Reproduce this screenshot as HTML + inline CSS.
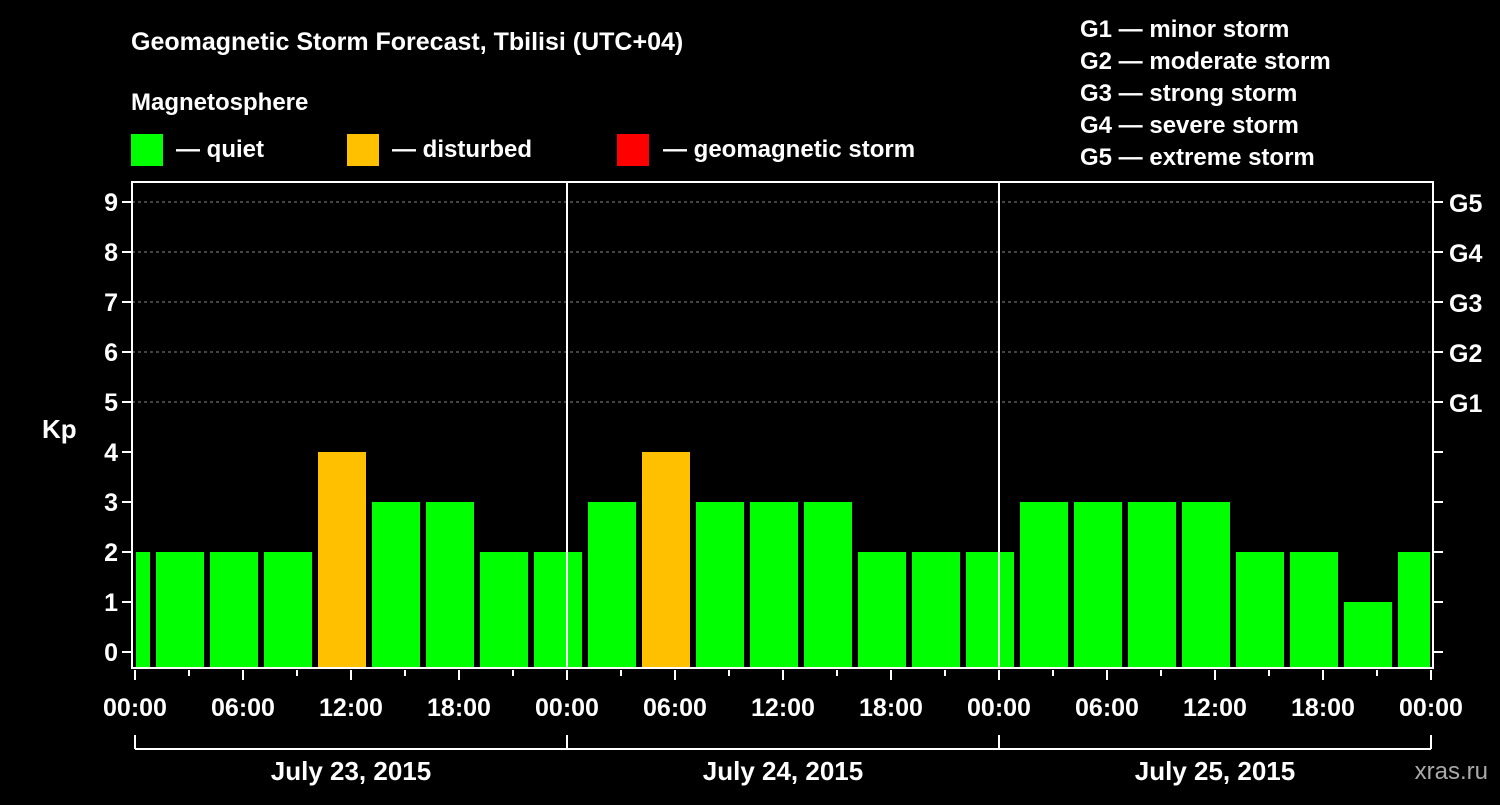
<!DOCTYPE html>
<html><head><meta charset="utf-8"><style>
body{margin:0;background:#000;width:1500px;height:800px;overflow:hidden}
svg text{font-family:"Liberation Sans",Arial,sans-serif;font-weight:bold;fill:#fff}
</style></head><body>
<svg id="chart" width="1500" height="800" xmlns="http://www.w3.org/2000/svg">
<rect width="1500" height="800" fill="#000"/>
<text x="131" y="50" font-size="25">Geomagnetic Storm Forecast, Tbilisi (UTC+04)</text>
<text x="131" y="110" font-size="24">Magnetosphere</text>
<rect x="131" y="134" width="32" height="32" fill="#00ff00"/>
<text x="176" y="157" font-size="24">— quiet</text>
<rect x="347" y="134" width="32" height="32" fill="#ffc000"/>
<text x="392" y="157" font-size="24">— disturbed</text>
<rect x="617" y="134" width="32" height="32" fill="#ff0000"/>
<text x="663" y="157" font-size="24">— geomagnetic storm</text>
<g font-size="24">
<text x="1080" y="37">G1 — minor storm</text>
<text x="1080" y="69">G2 — moderate storm</text>
<text x="1080" y="101">G3 — strong storm</text>
<text x="1080" y="133">G4 — severe storm</text>
<text x="1080" y="165">G5 — extreme storm</text>
</g>
<text x="42" y="438" font-size="26">Kp</text>
<text x="1488" y="779" font-size="24" text-anchor="end" fill="#aaa" style="fill:#aaa;font-weight:normal">xras.ru</text>
<g id="plot"></g>
</svg>
<script>
const kpValues=[2,2,2,2,4,3,3,2,2,3,4,3,3,3,2,2,2,3,3,3,3,2,2,1,2];
const blockStartHours=[-2,1,4,7,10,13,16,19,22,25,28,31,34,37,40,43,46,49,52,55,58,61,64,67,70];
const yTicks=[0,1,2,3,4,5,6,7,8,9];
const gLabels=["G1","G2","G3","G4","G5"];
const xTickLabels=["00:00","06:00","12:00","18:00","00:00","06:00","12:00","18:00","00:00","06:00","12:00","18:00","00:00"];
const dayLabels=["July 23, 2015","July 24, 2015","July 25, 2015"];
const NS="http://www.w3.org/2000/svg";
const plot=document.getElementById('plot');
const X0=135,PXH=18,TOTAL=72;
const x=h=>X0+h*PXH;
const y=k=>652-k*50;
const L=132,R=1433,T=182,B=668;
function el(t,a,p){const e=document.createElementNS(NS,t);for(const k in a)e.setAttribute(k,a[k]);(p||plot).appendChild(e);return e;}
// grid
yTicks.forEach(k=>{if(k>=5){const g=el('line',{x1:L,x2:R,y1:y(k),y2:y(k),stroke:'#888','stroke-dasharray':'3,3','stroke-width':1});

}});
// bars
kpValues.forEach((v,i)=>{
 const s=blockStartHours[i];
 let x1=x(s)+3,x2=x(s+3)-3;
 x1=Math.max(x1,x(0)+1);x2=Math.min(x2,x(TOTAL)-1);
 const c=v>=5?'#ff0000':(v>=4?'#ffc000':'#00ff00');
 const r=el('rect',{x:x1,y:y(v),width:x2-x1,height:B-y(v),fill:c});
 
 
});
// day separators
[24,48].forEach(h=>{const l=el('line',{x1:x(h),x2:x(h),y1:T,y2:B,stroke:'#fff','stroke-width':2});

});
// frame
const f=el('rect',{x:L,y:T,width:R-L,height:B-T,fill:'none',stroke:'#fff','stroke-width':2});


// y ticks
yTicks.forEach(k=>{
 el('line',{x1:L-10,x2:L,y1:y(k),y2:y(k),stroke:'#fff','stroke-width':2});
 el('line',{x1:R,x2:R+10,y1:y(k),y2:y(k),stroke:'#fff','stroke-width':2});
 const t=el('text',{x:L-14,y:y(k)+9,'font-size':25,'text-anchor':'end'});t.textContent=k;
 
 
 if(k>=5){const g=el('text',{x:R+16,y:y(k)+10,'font-size':25});g.textContent=gLabels[k-5];
 
 }
});
// x ticks
for(let h=0;h<=TOTAL;h+=3){const maj=h%6===0;el('line',{x1:x(h),x2:x(h),y1:B+2,y2:B+(maj?12:8),stroke:'#fff','stroke-width':2});}
xTickLabels.forEach((s,i)=>{const t=el('text',{x:x(i*6),y:716,'font-size':25,'text-anchor':'middle'});t.textContent=s;

});
// day brackets
el('line',{x1:x(0),x2:x(TOTAL),y1:749,y2:749,stroke:'#fff','stroke-width':2});
[0,24,48,72].forEach(h=>el('line',{x1:x(h),x2:x(h),y1:735,y2:749,stroke:'#fff','stroke-width':2}));
dayLabels.forEach((s,i)=>{const t=el('text',{x:x(i*24+12),y:780,'font-size':26,'text-anchor':'middle'});t.textContent=s;

});
</script>
</body></html>
